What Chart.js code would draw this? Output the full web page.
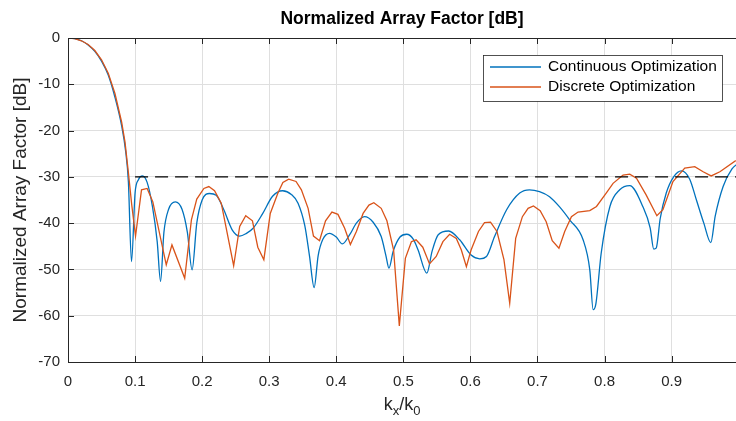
<!DOCTYPE html>
<html>
<head>
<meta charset="utf-8">
<script src="https://cdn.jsdelivr.net/npm/chart.js@4"></script>
<style>
  html, body { margin: 0; padding: 0; background: #fff; }
  #wrap { width: 736px; height: 421px; }
</style>
</head>
<body>
<div id="wrap"><canvas id="af" width="736" height="421"></canvas></div>
<script>
// ── Data ─────────────────────────────────────────────────────
const kxCont = [0, 0.01, 0.02, 0.03, 0.04, 0.05, 0.06, 0.07, 0.08, 0.086, 0.09, 0.0947, 0.1, 0.105, 0.111, 0.118, 0.126, 0.133, 0.138, 0.143,
  0.15, 0.16, 0.17, 0.178, 0.185, 0.192, 0.2, 0.211, 0.221, 0.232, 0.245, 0.256, 0.266, 0.276, 0.29, 0.305, 0.32, 0.333, 0.343, 0.353,
  0.36, 0.367, 0.373, 0.38, 0.39, 0.4, 0.409, 0.42, 0.43, 0.442, 0.455, 0.467, 0.474, 0.4785, 0.485, 0.495, 0.505, 0.515, 0.522, 0.535,
  0.543, 0.552, 0.5676, 0.584, 0.601, 0.614, 0.624, 0.636, 0.654, 0.6735, 0.688, 0.703, 0.718, 0.733, 0.748, 0.768, 0.778, 0.783, 0.787, 0.795,
  0.808, 0.8226, 0.8376, 0.857, 0.868, 0.8734, 0.877, 0.883, 0.892, 0.903, 0.9147, 0.927, 0.937, 0.948, 0.9584, 0.965, 0.9768, 0.99, 1.0];
const afCont = [0, -0.15, -0.6, -1.5, -2.9, -5.0, -8.0, -12.8, -19.0, -24.5, -31, -48.3, -33.5, -30.6, -29.8, -31.2, -36.5, -44, -52.6, -42,
  -37, -35.4, -37, -42, -50.1, -40, -35, -33.6, -34, -37, -41.5, -42.8, -42.2, -41.1, -38, -34.2, -33.0, -33.8, -35.7, -40.5,
  -47, -53.9, -47, -43.5, -42.2, -43, -44.5, -42.5, -40, -38.6, -39.8, -42.9, -47, -49.7, -46, -43, -42.4, -43.5, -45.8, -50.8,
  -46, -42.5, -41.7, -43.6, -46.9, -47.7, -47.2, -42.9, -37.1, -33.5, -32.8, -33.2, -34.3, -36.5, -39.3, -43.6, -50.1, -58.7, -57.5, -46.5,
  -36.4, -32.8, -31.9, -36.4, -41, -45.6, -45.4, -39, -33.5, -30, -28.7, -30.5, -35, -40, -44.2, -38.5, -32.1, -28.3, -27];

const kxDisc = [0, 0.01, 0.02, 0.03, 0.04, 0.05, 0.06, 0.07, 0.08, 0.085, 0.09, 0.095, 0.1007, 0.1096, 0.118, 0.1265, 0.1465, 0.155, 0.174, 0.184,
  0.192, 0.2026, 0.21, 0.2185, 0.2285, 0.247, 0.256, 0.265, 0.275, 0.283, 0.292, 0.3016, 0.313, 0.3204, 0.329, 0.34, 0.348, 0.358, 0.366, 0.375,
  0.384, 0.3935, 0.4025, 0.4125, 0.421, 0.43, 0.44, 0.4487, 0.456, 0.467, 0.4755, 0.4855, 0.494, 0.503, 0.512, 0.519, 0.529, 0.539, 0.549, 0.559,
  0.569, 0.579, 0.5865, 0.594, 0.601, 0.612, 0.621, 0.63, 0.6396, 0.65, 0.6586, 0.6675, 0.6775, 0.686, 0.694, 0.704, 0.713, 0.722, 0.732, 0.7406,
  0.7506, 0.7605, 0.778, 0.788, 0.803, 0.8127, 0.8276, 0.8376, 0.8476, 0.862, 0.878, 0.887, 0.902, 0.9196, 0.9345, 0.947, 0.959, 0.972, 0.9957];
const afDisc = [0, -0.15, -0.6, -1.4, -2.7, -4.7, -7.6, -12, -18.2, -22.5, -29.0, -36, -42.8, -32.8, -32.5, -35.4, -49, -44.7, -51.9, -39.3,
  -34.8, -32.5, -32.1, -33, -35.7, -49.2, -40.7, -38.4, -39.5, -45.2, -47.9, -37.9, -33.5, -31.2, -30.5, -31.0, -32.8, -36.8, -42.8, -43.8,
  -39.5, -37.6, -38.1, -41.1, -44.6, -41.8, -37.9, -36.1, -35.6, -36.8, -39.5, -45.8, -62.2, -47.6, -44.0, -43.6, -45.2, -48.8, -47.2, -44.0,
  -42.4, -43.3, -45.8, -49.4, -45.8, -41.8, -39.9, -39.8, -41.8, -47.9, -57.3, -43.3, -38.6, -36.8, -36.3, -37.3, -39.7, -43.8, -45.4, -41.8,
  -38.6, -37.6, -37.3, -36.4, -33.4, -31.4, -29.6, -29.4, -30.3, -33.9, -38.4, -37.1, -31.0, -28.1, -27.8, -28.9, -29.8, -28.9, -26.5];

const limitKx = [0.1, 1.0];
const limitDb = [-30, -30];

const xTicks = [0, 0.1, 0.2, 0.3, 0.4, 0.5, 0.6, 0.7, 0.8, 0.9];
const yTicks = [-70, -60, -50, -40, -30, -20, -10, 0];

const seriesNames = ["Continuous Optimization", "Discrete Optimization"];
const seriesColors = ["#0072BD", "#D95319"];

const FONT = "'Liberation Sans', Arial, sans-serif";
const AXIS = "#262626";

const toXY = (xs, ys) => xs.map((x, i) => ({ x, y: ys[i] }));

// ── MATLAB style frame, ticks, titles and legend ─────────────
const frame = {
    id: "frame",
    afterDatasetsDraw(chart) {
        const { ctx, chartArea: a, scales: { x, y } } = chart;
        ctx.save();
        ctx.strokeStyle = AXIS;
        ctx.lineWidth = 1;
        ctx.beginPath();
        ctx.moveTo(a.left + 0.5, a.top + 0.5);
        ctx.lineTo(a.left + 0.5, a.bottom + 0.5);
        ctx.lineTo(a.right, a.bottom + 0.5);
        ctx.moveTo(a.left, a.top + 0.5);
        ctx.lineTo(a.right, a.top + 0.5);
        // inward ticks
        x.ticks.forEach(t => {
            const px = Math.round(x.getPixelForValue(t.value)) + 0.5;
            ctx.moveTo(px, a.bottom); ctx.lineTo(px, a.bottom - 6);
            ctx.moveTo(px, a.top);    ctx.lineTo(px, a.top + 6);
        });
        y.ticks.forEach(t => {
            const py = Math.round(y.getPixelForValue(t.value)) + 0.5;
            ctx.moveTo(a.left, py); ctx.lineTo(a.left + 6, py);
        });
        ctx.stroke();

        // title
        ctx.fillStyle = "#000";
        ctx.font = "bold 17.5px " + FONT;
        ctx.textAlign = "center";
        ctx.textBaseline = "middle";
        ctx.fillText("Normalized Array Factor [dB]", (a.left + a.right) / 2, 19);

        // y title
        ctx.fillStyle = AXIS;
        ctx.font = "19px " + FONT;
        ctx.save();
        ctx.translate(21, (a.top + a.bottom) / 2);
        ctx.rotate(-Math.PI / 2);
        ctx.fillText("Normalized Array Factor [dB]", 0, 0);
        ctx.restore();

        // x title k_x / k_0
        const cx = (a.left + a.right) / 2, base = 410;
        ctx.textBaseline = "alphabetic";
        ctx.textAlign = "left";
        const big = "18px " + FONT, small = "13px " + FONT;
        const parts = [["k", big, 0], ["x", small, 5], ["/k", big, 0], ["0", small, 5]];
        let w = 0;
        parts.forEach(p => { ctx.font = p[1]; w += ctx.measureText(p[0]).width; });
        let px = cx - w / 2;
        parts.forEach(p => {
            ctx.font = p[1];
            ctx.fillText(p[0], px, base + p[2]);
            px += ctx.measureText(p[0]).width;
        });

        // legend
        const lx = 483, ly = 55, lw = 239, lh = 46;
        ctx.fillStyle = "#fff";
        ctx.fillRect(lx, ly, lw, lh);
        ctx.strokeStyle = AXIS;
        ctx.lineWidth = 0.8;
        ctx.strokeRect(lx + 0.5, ly + 0.5, lw, lh);
        ctx.font = "15.5px " + FONT;
        ctx.textBaseline = "middle";
        seriesNames.forEach((n, i) => {
            const yy = ly + 12 + i * 20;
            ctx.strokeStyle = seriesColors[i];
            ctx.lineWidth = 1.3;
            ctx.beginPath();
            ctx.moveTo(lx + 7, yy); ctx.lineTo(lx + 58, yy);
            ctx.stroke();
            ctx.fillStyle = "#000";
            ctx.fillText(n, lx + 65, yy);
        });
        ctx.restore();
    }
};

new Chart(document.getElementById("af"), {
    type: "line",
    data: {
        datasets: [
            {
                label: seriesNames[0],
                data: toXY(kxCont, afCont),
                borderColor: seriesColors[0],
                borderWidth: 1.3,
                pointRadius: 0,
                cubicInterpolationMode: "monotone",
                order: 2
            },
            {
                label: seriesNames[1],
                data: toXY(kxDisc, afDisc),
                borderColor: seriesColors[1],
                borderWidth: 1.3,
                pointRadius: 0,
                tension: 0,
                order: 1
            },
            {
                label: "limit",
                data: toXY(limitKx, limitDb),
                borderColor: "#000",
                borderWidth: 1.4,
                borderDash: [13, 7],
                pointRadius: 0,
                order: 0
            }
        ]
    },
    options: {
        responsive: false,
        animation: false,
        events: [],
        layout: { padding: { top: 38, right: 0, left: 0, bottom: 0 } },
        plugins: { legend: { display: false }, tooltip: { enabled: false } },
        scales: {
            x: {
                type: "linear",
                min: 0,
                max: 0.996,
                afterBuildTicks: s => { s.ticks = xTicks.map(v => ({ value: v })); },
                afterFit: s => { s.height = 59; s.paddingRight = 0; },
                grid: { color: "#dfdfdf", drawTicks: false },
                border: { display: false },
                ticks: {
                    padding: 11,
                    maxRotation: 0,
                    autoSkip: false,
                    color: AXIS,
                    font: { family: FONT, size: 15 },
                    callback: v => String(v)
                }
            },
            y: {
                min: -70,
                max: 0,
                afterBuildTicks: s => { s.ticks = yTicks.map(v => ({ value: v })); },
                afterFit: s => { s.width = 68; },
                grid: { color: "#dfdfdf", drawTicks: false },
                border: { display: false },
                ticks: {
                    padding: 8,
                    color: AXIS,
                    font: { family: FONT, size: 15 }
                }
            }
        }
    },
    plugins: [frame]
});
</script>
</body>
</html>
